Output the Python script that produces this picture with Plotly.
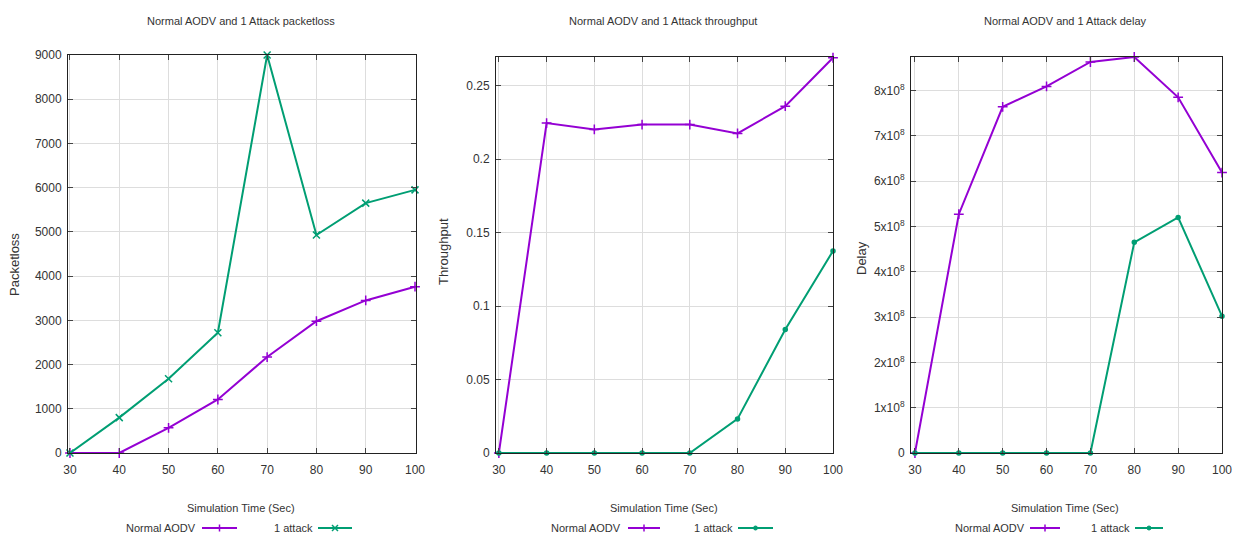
import plotly.graph_objects as go

# ---------------- data ----------------
sim_time = [30, 40, 50, 60, 70, 80, 90, 100]

packetloss_normal = [0, 0, 570, 1210, 2170, 2980, 3450, 3760]
packetloss_attack = [0, 800, 1680, 2720, 9000, 4930, 5650, 5950]

throughput_normal = [0, 0.2245, 0.2202, 0.2235, 0.2235, 0.2175, 0.2360, 0.2690]
throughput_attack = [0, 0, 0, 0, 0, 0.0232, 0.0840, 0.1375]

delay_normal = [0, 5.27e8, 7.64e8, 8.09e8, 8.63e8, 8.74e8, 7.85e8, 6.19e8]
delay_attack = [0, 0, 0, 0, 0, 4.65e8, 5.20e8, 3.02e8]

panel_titles = ["Normal AODV and 1 Attack packetloss",
                "Normal AODV and 1 Attack throughput",
                "Normal AODV and 1 Attack delay"]
y_titles = ["Packetloss", "Throughput", "Delay"]
x_title = "Simulation Time (Sec)"
series_names = ["Normal AODV", "1 attack"]

x_tickvals = [30, 40, 50, 60, 70, 80, 90, 100]
pl_tickvals = [0, 1000, 2000, 3000, 4000, 5000, 6000, 7000, 8000, 9000]
tp_tickvals = [0, 0.05, 0.1, 0.15, 0.2, 0.25]
tp_ticktext = ["0", "0.05", "0.1", "0.15", "0.2", "0.25"]
dl_tickvals = [0, 1e8, 2e8, 3e8, 4e8, 5e8, 6e8, 7e8, 8e8]
dl_ticktext = ["0"] + [f"{i}x10<sup>8</sup>" for i in range(1, 9)]

# ---------------- style ----------------
W, H = 1235, 542
PURPLE = "#9400D3"
GREEN = "#009E73"
FONT = "Liberation Sans Narrow, Arial Narrow, Liberation Sans, Arial, sans-serif"
TXT = "#333333"

def px(x):
    return x / W

def py(y):
    return (H - y) / H

panels = [
    dict(xdom=[68, 416], ytop=55, xr=[29.6, 100.2], yr=[0, 9000],
         tv=pl_tickvals, tt=[str(v) for v in pl_tickvals],
         yn=packetloss_normal, ya=packetloss_attack, asym="x-thin",
         title_x=241, xt_x=241, yt_x=14, yt_y=265,
         leg=[128, 198, 202, 237, 288, 315, 318, 352]),
    dict(xdom=[496, 833], ytop=57, xr=[29.4, 100], yr=[0, 0.2695],
         tv=tp_tickvals, tt=tp_ticktext,
         yn=throughput_normal, ya=throughput_attack, asym="circle",
         title_x=663, xt_x=664, yt_x=443, yt_y=252,
         leg=[557, 623, 628, 660, 700, 735, 738, 773]),
    dict(xdom=[911, 1222], ytop=57, xr=[29.1, 100], yr=[0, 8.74e8],
         tv=dl_tickvals, tt=dl_ticktext,
         yn=delay_normal, ya=delay_attack, asym="circle",
         title_x=1065, xt_x=1065, yt_x=861, yt_y=258,
         leg=[965, 1027, 1030, 1060, 1097, 1132, 1135, 1163]),
]

fig = go.Figure()
annotations = []
shapes = []
BOTTOM = 453

def note(text, x, y, size=11, xanchor="center", angle=0):
    annotations.append(dict(text=text, x=px(x), y=py(y), xref="paper", yref="paper",
                            showarrow=False, xanchor=xanchor, yanchor="middle",
                            textangle=angle,
                            font=dict(family=FONT, size=size, color=TXT)))

for i, p in enumerate(panels):
    n = "" if i == 0 else str(i + 1)
    xa, ya = "x" + n, "y" + n
    fig.add_trace(go.Scatter(
        x=sim_time, y=p["yn"], mode="lines+markers", name=series_names[0],
        line=dict(color=PURPLE, width=2),
        marker=dict(symbol="cross-thin", size=7, line=dict(color=PURPLE, width=1.5)),
        xaxis=xa, yaxis=ya, showlegend=False, cliponaxis=False))
    amark = dict(symbol=p["asym"], size=7 if p["asym"] == "x-thin" else 4,
                 color=GREEN, line=dict(color=GREEN, width=1.5))
    fig.add_trace(go.Scatter(
        x=sim_time, y=p["ya"], mode="lines+markers", name=series_names[1],
        line=dict(color=GREEN, width=2), marker=amark,
        xaxis=xa, yaxis=ya, showlegend=False, cliponaxis=False))

    axis_common = dict(showline=True, linecolor="#222222", linewidth=1, mirror="ticks",
                       ticks="inside", ticklen=5, tickcolor="#444444",
                       showgrid=True, gridcolor="#dddddd", gridwidth=1,
                       zeroline=False, automargin=False,
                       tickfont=dict(family=FONT, size=12, color=TXT))
    fig.layout["xaxis" + n] = dict(
        domain=[px(p["xdom"][0]), px(p["xdom"][1])], range=p["xr"],
        tickvals=x_tickvals, anchor=ya, ticklabelstandoff=6, **axis_common)
    fig.layout["yaxis" + n] = dict(
        domain=[py(BOTTOM), py(p["ytop"])], range=p["yr"],
        tickvals=p["tv"], ticktext=p["tt"], anchor=xa, ticklabelstandoff=3,
        **axis_common)

    note(panel_titles[i], p["title_x"], 21)
    note(x_title, p["xt_x"], 508)
    note(y_titles[i], p["yt_x"], p["yt_y"], size=13, angle=-90)

    # legend (gnuplot style: text then sample)
    lg = p["leg"]
    ly = 528
    for k, (col, t1, l0, l1) in enumerate(
            [(PURPLE, lg[1], lg[2], lg[3]), (GREEN, lg[5], lg[6], lg[7])]):
        note(series_names[k], t1, ly, xanchor="right")
        shapes.append(dict(type="line", xref="paper", yref="paper",
                           x0=px(l0), x1=px(l1), y0=py(ly), y1=py(ly),
                           line=dict(color=col, width=2)))
        cx = (l0 + l1) / 2
        if k == 0:
            shapes.append(dict(type="line", xref="paper", yref="paper",
                               x0=px(cx), x1=px(cx), y0=py(ly - 3.5), y1=py(ly + 3.5),
                               line=dict(color=col, width=1.5)))
        elif p["asym"] == "x-thin":
            shapes.append(dict(type="line", xref="paper", yref="paper",
                               x0=px(cx - 3), x1=px(cx + 3), y0=py(ly - 3), y1=py(ly + 3),
                               line=dict(color=col, width=1.5)))
            shapes.append(dict(type="line", xref="paper", yref="paper",
                               x0=px(cx - 3), x1=px(cx + 3), y0=py(ly + 3), y1=py(ly - 3),
                               line=dict(color=col, width=1.5)))
        else:
            shapes.append(dict(type="circle", xref="paper", yref="paper",
                               x0=px(cx - 2), x1=px(cx + 2), y0=py(ly + 2), y1=py(ly - 2),
                               line=dict(color=col, width=1), fillcolor=col))

fig.update_layout(
    width=W, height=H, margin=dict(l=0, r=0, t=0, b=0),
    paper_bgcolor="white", plot_bgcolor="white",
    showlegend=False, annotations=annotations, shapes=shapes,
    font=dict(family=FONT, size=11, color=TXT))

fig.write_html("out.html", config={"displayModeBar": False},
               post_script="document.body.style.margin='0';document.body.style.overflow='hidden';")
